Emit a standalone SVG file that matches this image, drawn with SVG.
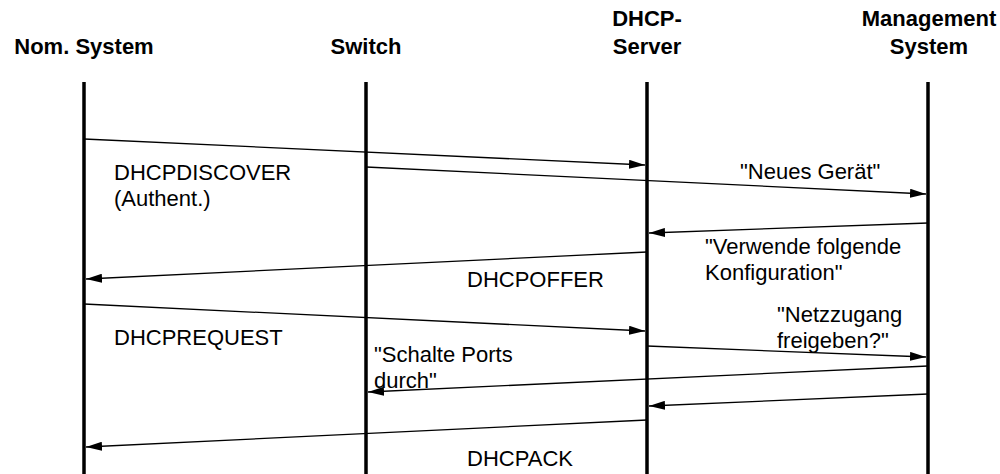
<svg xmlns="http://www.w3.org/2000/svg" width="1000" height="474" viewBox="0 0 1000 474">
<defs>
<style>
.h{font-family:"Liberation Sans",Arial,sans-serif;font-weight:bold;font-size:22px;text-anchor:middle;fill:#000}
.t{font-family:"Liberation Sans",Arial,sans-serif;font-size:22px;fill:#000}
.life{stroke:#000;stroke-width:3.5;fill:none}
.msg{stroke:#000;stroke-width:1.3;fill:none;marker-end:url(#ah)}
</style>
<marker id="ah" viewBox="0 0 16 9" refX="16" refY="4.5" markerWidth="16" markerHeight="9" markerUnits="userSpaceOnUse" orient="auto">
<path d="M0,0 L16,4.5 L0,9 Z" fill="#000"/>
</marker>
</defs>
<rect width="1000" height="474" fill="#fff"/>
<g id="nom">
<text class="h" x="84" y="54">Nom. System</text>
<line class="life" x1="84" y1="82" x2="84" y2="474"/>
</g>
<g id="switch">
<text class="h" x="366" y="54">Switch</text>
<line class="life" x1="366" y1="82" x2="366" y2="474"/>
</g>
<g id="dhcp">
<text class="h" x="647" y="26">DHCP-</text>
<text class="h" x="647" y="54">Server</text>
<line class="life" x1="647" y1="82" x2="647" y2="474"/>
</g>
<g id="mgmt">
<text class="h" x="929" y="26">Management</text>
<text class="h" x="929" y="54">System</text>
<line class="life" x1="928" y1="82" x2="928" y2="474"/>
</g>
<g id="connectors">
<line class="msg" x1="84" y1="139" x2="645" y2="165"/>
<line class="msg" x1="366" y1="167" x2="926" y2="194"/>
<line class="msg" x1="928" y1="223" x2="649" y2="233"/>
<line class="msg" x1="647" y1="252" x2="86" y2="279"/>
<line class="msg" x1="84" y1="304" x2="645" y2="331"/>
<line class="msg" x1="647" y1="346" x2="926" y2="357"/>
<line class="msg" x1="928" y1="366" x2="368" y2="392"/>
<line class="msg" x1="928" y1="394" x2="649" y2="406"/>
<line class="msg" x1="647" y1="420" x2="86" y2="447"/>
</g>
<g id="labels">
<text class="t" x="114" y="180">DHCPDISCOVER</text>
<text class="t" x="114" y="206">(Authent.)</text>
<text class="t" x="740" y="179">"Neues Gerät"</text>
<text class="t" x="705" y="254">"Verwende folgende</text>
<text class="t" x="705" y="280">Konfiguration"</text>
<text class="t" x="467" y="287">DHCPOFFER</text>
<text class="t" x="114" y="345">DHCPREQUEST</text>
<text class="t" x="777" y="322">"Netzzugang</text>
<text class="t" x="777" y="348">freigeben?"</text>
<text class="t" x="374" y="362">"Schalte Ports</text>
<text class="t" x="374" y="388">durch"</text>
<text class="t" x="467" y="466">DHCPACK</text>
</g>
</svg>
